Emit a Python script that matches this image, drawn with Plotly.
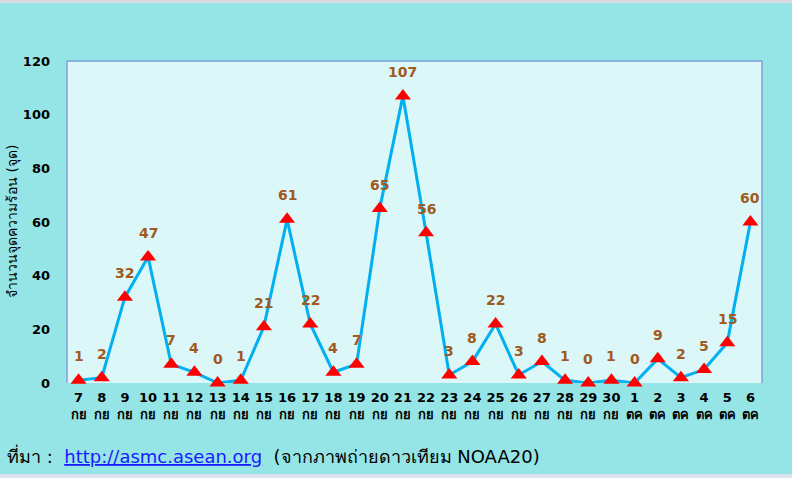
import plotly.graph_objects as go

days = ["7", "8", "9", "10", "11", "12", "13", "14", "15", "16", "17", "18", "19", "20", "21",
        "22", "23", "24", "25", "26", "27", "28", "29", "30", "1", "2", "3", "4", "5", "6"]
months = ["กย"] * 24 + ["ตค"] * 6
hotspots = [1, 2, 32, 47, 7, 4, 0, 1, 21, 61, 22, 4, 7, 65, 107,
            56, 3, 8, 22, 3, 8, 1, 0, 1, 0, 9, 2, 5, 15, 60]
y_ticks = [0, 20, 40, 60, 80, 100, 120]
y_title = "จำนวนจุดความร้อน (จุด)"

W, H = 792, 478
L, R, T, B = 67, 30, 61, 95
PW, PH = W - L - R, H - T - B

def px_x(px):
    return (px - L) / PW

def px_y(py):
    return (H - B - py) / PH

cats = list(range(len(days)))
ticktext = [f"{d}<br>{m}" for d, m in zip(days, months)]
FONT = "DejaVu Sans, Verdana, sans-serif"

fig = go.Figure()
fig.add_trace(go.Scatter(
    x=cats, y=hotspots, mode="lines+markers",
    line=dict(color="#00B0F0", width=3),
    marker=dict(symbol="triangle-up", size=14, color="#FF0000"),
    cliponaxis=False, showlegend=False, hoverinfo="skip",
))

annotations = [
    dict(x=c, y=v, xref="x", yref="y", text=str(v), showarrow=False,
         yshift=24, xanchor="center", yanchor="middle",
         font=dict(family=FONT, size=14, color="#A0591E", weight="bold"))
    for c, v in zip(cats, hotspots)
]
annotations += [
    dict(text=y_title, textangle=-90, xref="paper", yref="paper",
         x=px_x(12), y=0.5, xanchor="center", yanchor="middle",
         showarrow=False, font=dict(family=FONT, size=14, color="black")),
    dict(text="ที่มา :  <span style='color:#1A1AFF'><u>http://asmc.asean.org</u></span>  (จากภาพถ่ายดาวเทียม NOAA20)",
         xref="paper", yref="paper", x=px_x(5), y=px_y(455),
         xanchor="left", yanchor="middle", showarrow=False,
         font=dict(family=FONT, size=18, color="black")),
]

fig.update_layout(
    width=W, height=H,
    margin=dict(l=L, r=R, t=T, b=B),
    paper_bgcolor="#95E5E6",
    plot_bgcolor="#DBF7F7",
    font=dict(family=FONT, color="black"),
    xaxis=dict(
        range=[-0.5, len(days) - 0.5], tickmode="array", tickvals=cats, ticktext=ticktext,
        showgrid=False, zeroline=False, showline=False,
        tickfont=dict(size=13, weight="bold"), ticklabelstandoff=5,
    ),
    yaxis=dict(
        range=[0, 120], tickmode="array", tickvals=y_ticks,
        showgrid=False, zeroline=False, showline=False,
        tickfont=dict(size=13, weight="bold"), ticklabelstandoff=16,
    ),
    shapes=[
        dict(type="rect", xref="paper", yref="paper", x0=px_x(0), x1=px_x(W),
             y0=px_y(3), y1=px_y(0), line=dict(width=0), fillcolor="#D9DAE2", layer="above"),
        dict(type="rect", xref="paper", yref="paper", x0=px_x(0), x1=px_x(W),
             y0=px_y(H), y1=px_y(474), line=dict(width=0), fillcolor="#DCE3EE", layer="above"),
        dict(type="line", xref="paper", yref="paper", x0=0, x1=0, y0=0, y1=1,
             line=dict(color="#7FA0D8", width=1.5)),
        dict(type="line", xref="paper", yref="paper", x0=0, x1=1, y0=1, y1=1,
             line=dict(color="#7FA0D8", width=1.5)),
        dict(type="line", xref="paper", yref="paper", x0=1, x1=1, y0=0, y1=1,
             line=dict(color="#7FA0D8", width=1.5)),
    ],
    annotations=annotations,
)

fig.write_html("out.html", config={"displayModeBar": False},
               post_script="document.body.style.margin='0';document.body.style.overflow='hidden';")
